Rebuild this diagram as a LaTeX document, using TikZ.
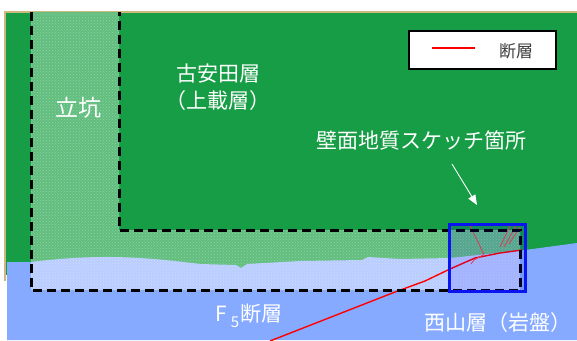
\documentclass[tikz,border=0pt]{standalone}
\usepackage{fontspec}
\newfontfamily\jp{Noto Sans CJK JP}
\usetikzlibrary{arrows.meta,patterns}
\definecolor{upper}{RGB}{22,157,69}
\definecolor{upperlt}{RGB}{98,190,126}
\definecolor{rock}{RGB}{134,170,255}
\definecolor{rocklt}{RGB}{186,205,255}
\definecolor{frame}{RGB}{205,185,125}
\definecolor{sketchblue}{RGB}{10,20,240}

% top of the bedrock (Nishiyama formation)
\def\surface{(7,262) -- (30,262) .. controls (90,255) and (130,255) .. (200,264)
  -- (236,265) -- (241,268) -- (247,264) -- (300,261) -- (362,260) -- (368,257)
  -- (400,259) -- (450,258) -- (525,250) -- (577,243)}

\begin{document}
\begin{tikzpicture}[x=1pt, y=-1pt, >=Stealth,
  lbl/.style={text=white, font=\jp\fontsize{21}{27}\selectfont, inner sep=0pt},
  dig/.style={draw=black, line width=3pt, dash pattern=on 9pt off 5pt},
  fault/.style={draw=red, line width=1.4pt},
  crack/.style={draw=red!75, line width=0.8pt}]
\useasboundingbox (0,0) rectangle (577,340);
\fill[white] (0,0) rectangle (577,340);
% layers
\fill[upper] (5,12) rectangle (577,275);
\draw[frame, line width=1.5pt] (5,281) -- (5,12) -- (577,12);
\fill[rock] \surface -- (577,340) -- (7,340) -- cycle;
% shaft and tunnel
\begin{scope}
  \clip (31,12) -- (31,290) -- (520,290) -- (520,230) -- (119,230) -- (119,12) -- cycle;
  \fill[upperlt] (0,0) rectangle (577,340);
  \fill[rocklt] \surface -- (577,340) -- (7,340) -- cycle;
  \fill[pattern=crosshatch dots, pattern color=white, opacity=0.3] (0,0) rectangle (577,340);
\end{scope}
% F5 fault and cracks
\draw[fault] (270,341) -- (395,292) -- (425,281) -- (450,269) -- (475,258) -- (500,253) -- (522,250);
\draw[crack] (470,226) -- (478,242) -- (484,255);
\draw[crack] (483,255) -- (474,260) -- (471,264);
\draw[crack] (510,226) -- (500,247);
\draw[crack] (516,226) -- (504,247);
\draw[crack] (520,227) -- (509,244);
\draw[dig] (31,12) -- (31,290) -- (520,290) -- (520,230) -- (119,230) -- (119,12);
% sketched wall
\node[draw=sketchblue, line width=3pt, fill=blue, fill opacity=0.12, inner sep=0pt,
  minimum width=76pt, minimum height=67pt] (sketch) at (487,257.5) {};
% labels
\node[lbl, font=\jp\fontsize{23}{27}\selectfont] (shaft) at (78,108) {立坑};
\node[lbl, align=center] (cover) at (218,87) {古安田層\\（上載層）};
\node[lbl] (site) at (421,140) {壁面地質スケッチ箇所};
\coordinate (tail) at (452,164);
\coordinate (tip) at (477,205);
\draw[white, line width=0.9pt, -{Triangle[width=8pt,length=10pt]}] (tail) -- (tip);
\node[lbl, anchor=west] (f5) at (215,316)
  {F\hspace{4pt}\raisebox{-6pt}{\fontsize{15}{15}\selectfont 5}\hspace{1pt}断層};
\node[lbl] (rockname) at (498,323) {西山層（岩盤）};
% legend
\node[draw, fill=white, line width=1.2pt, minimum width=147pt, minimum height=38pt] (legend) at (482.5,50) {};
\coordinate (k1) at (432,48);
\coordinate (k2) at (475,48);
\draw[red, line width=1.3pt] (k1) -- (k2);
\node[font=\jp\fontsize{17}{20}\selectfont, text=black!75] (keytext) at (516,51) {断層};
\end{tikzpicture}
\end{document}
